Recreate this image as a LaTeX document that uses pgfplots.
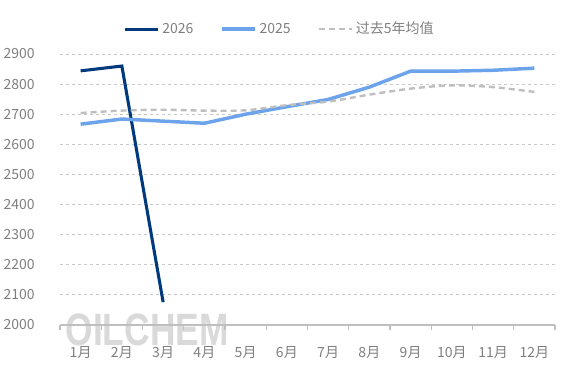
\documentclass[border=0pt]{standalone}
\usepackage{pgfplots}
\pgfplotsset{compat=1.18}
\usepackage{fontspec}
\setmainfont{Noto Sans CJK SC}
\newfontfamily\wmfont{Liberation Sans}
\definecolor{c26}{HTML}{003A7D}
\definecolor{c25}{HTML}{6CA3EA}
\definecolor{cavg}{HTML}{BFBFBF}
\definecolor{txt}{HTML}{7F7F7F}
\definecolor{grd}{HTML}{C8C8C8}
\begin{document}
\begin{tikzpicture}[x=1pt,y=1pt]
\node[anchor=south west, inner sep=0pt, text=black!15, font=\wmfont\bfseries\fontsize{34}{34}\selectfont, xscale=0.78] at (49,24) {OILCHEM};
\begin{axis}[
  at={(45pt,39.75pt)}, anchor=origin,
  scale only axis, width=371.25pt, height=203.25pt,
  xmin=0, xmax=12, ymin=2000, ymax=2900,
  xtick={0,...,12},
  xticklabels={1月,2月,3月,4月,5月,6月,7月,8月,9月,10月,11月,12月},
  x tick label as interval,
  ytick={2000,2100,...,2900},
  axis y line*=left, y axis line style={draw=none},
  axis x line*=bottom, x axis line style={draw=cavg, line width=0.9pt},
  tick align=outside, major tick length=3.5pt,
  xtick style={draw=cavg, line width=0.9pt},
  ytick style={draw=none},
  ymajorgrids, grid style={draw=grd, dash pattern=on 2.5pt off 2pt, line width=0.6pt},
  tick label style={text=txt, font=\fontsize{10.5}{12}\selectfont},
  /pgf/number format/assume math mode=true,
  /pgf/number format/1000 sep={},
  yticklabel style={xshift=-12pt},
  xticklabel style={yshift=-9pt},
  legend columns=3,
  legend style={draw=none, fill=none, at={(0.444,1.092)}, anchor=center,
    font=\fontsize{10.5}{12}\selectfont, text=txt,
    /tikz/every even column/.append style={column sep=18pt}},
  legend cell align=left,
  legend image code/.code={\draw[#1] (0pt,0pt) -- (25pt,0pt);},
  clip=false,
]
\addplot[c26, line width=2.3pt] coordinates {(0.5,2844) (1.5,2860) (2.5,2076)};
\addlegendentry{2026}
\addplot[c25, line width=2.6pt] coordinates {(0.5,2667) (1.5,2684) (2.5,2677) (3.5,2670) (4.5,2700) (5.5,2725) (6.5,2749) (7.5,2790) (8.5,2843) (9.5,2843) (10.5,2846) (11.5,2853)};
\addlegendentry{2025}
\addplot[cavg, line width=1.8pt, dash pattern=on 4.5pt off 3pt, smooth] coordinates {(0.5,2704) (1.5,2712) (2.5,2715) (3.5,2712) (4.5,2713) (5.5,2730) (6.5,2742) (7.5,2765) (8.5,2785) (9.5,2796) (10.5,2790) (11.5,2774)};
\addlegendentry{过去5年均值}
\end{axis}
\pgfresetboundingbox
\useasboundingbox (0,0) rectangle (425.25,283.5);
\end{tikzpicture}
\end{document}
